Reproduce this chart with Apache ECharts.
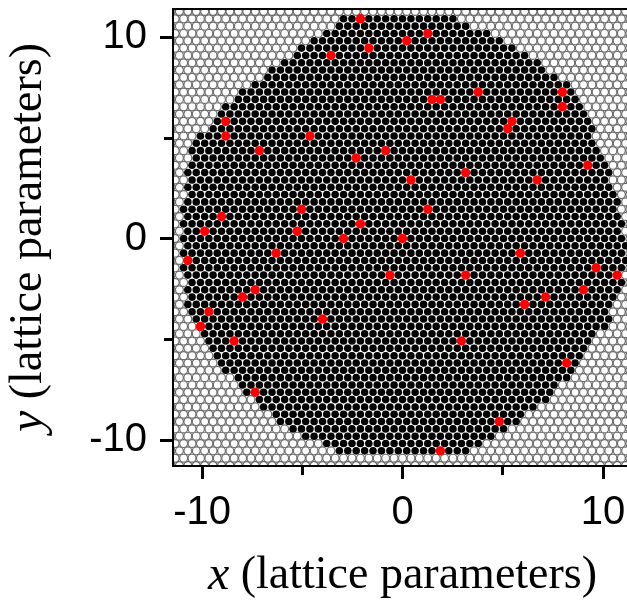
<!DOCTYPE html>
<html>
<head>
<meta charset="utf-8">
<script src="https://cdn.jsdelivr.net/npm/echarts@6/dist/echarts.min.js"></script>
<style>
  html, body { margin: 0; padding: 0; background: #fff; }
  #chart { width: 627px; height: 606px; }
</style>
</head>
<body>
<div id="chart"></div>
<script>
// Triangular lattice: nearest-neighbour spacing (lattice parameters)
const latticeSpacing = 0.42;

// Outline of the dark cluster, clockwise from the top-left corner
const outlineX = [-2.9, 2.5, 5.8, 8.7, 9.9, 10.8, 11.2, 11.1, 10.3, 9.0, 7.0, 2.7,
  -2.4, -5.8, -8.2, -9.6, -10.7, -11.1, -11.0, -10.5, -8.8, -6.2];
const outlineY = [11.0, 11.0, 9.5, 7.3, 4.5, 2.0, 0, -2.0, -4.0, -6.2, -8.3, -10.9,
  -10.9, -9.4, -7.4, -5.5, -3.5, -1.0, 1.5, 4.6, 6.7, 8.7];

// Axis extents and ticks
const xRange = [-11.45, 11.45];
const yRange = [-11.3, 11.4];
const majorTicks = [-10, 0, 10];
const minorTicks = [-5, 5];

// Marked sites inside the cluster (x, y in lattice parameters)
const markedX = [-2.19, 1.2, 0.1, -1.8, -3.64, -9.03, -8.98, 1.45, 1.9, 3.74,
  7.98, 7.98, 5.44, 5.19, -7.33, -4.69, -2.29, -0.9, 9.23, 0.35,
  3.04, 6.68, -5.04, -9.13, 1.25, -2.19, -9.93, -5.39, -2.99, 0,
  -10.82, -6.33, 5.79, 9.68, 10.87, -0.7, 3.14, -7.48, -8.13, -9.68,
  5.99, 7.03, 9.03, -10.12, -4.09, -8.53, 2.84, 8.13, -7.43, 4.79, 1.8];
const markedY = [10.97, 10.2, 9.83, 9.48, 9.08, 5.81, 5.11, 6.95, 6.95, 7.3,
  7.3, 6.6, 5.86, 5.5, 4.37, 5.16, 4.12, 4.42, 3.67, 2.98,
  3.33, 2.98, 1.49, 1.14, 1.49, 0.79, 0.4, 0.35, 0, 0,
  -1.04, -0.79, -0.69, -1.44, -1.74, -1.79, -1.74, -2.53, -2.88, -3.62,
  -3.23, -2.88, -2.53, -4.32, -3.97, -5.06, -5.06, -6.15, -7.59, -9.08, -10.52];

const rowStep = latticeSpacing * Math.sqrt(3) / 2;

function siteX(i, j) {
  return (i + (Math.abs(j) % 2 === 1 ? 0.5 : 0)) * latticeSpacing;
}

// Even-odd point-in-polygon test against the cluster outline
function inCluster(x, y) {
  let inside = false;
  const n = outlineX.length;
  for (let a = 0, b = n - 1; a < n; b = a++) {
    const xa = outlineX[a], ya = outlineY[a], xb = outlineX[b], yb = outlineY[b];
    if ((ya > y) !== (yb > y) && x < (xb - xa) * (y - ya) / (yb - ya) + xa) inside = !inside;
  }
  return inside;
}

// Every lattice site covering the plot, flagged 1 when it belongs to the cluster
const sites = [];
const jMax = Math.ceil(Math.max(Math.abs(yRange[0]), yRange[1]) / rowStep) + 1;
const iMax = Math.ceil(Math.max(Math.abs(xRange[0]), xRange[1]) / latticeSpacing) + 1;
for (let j = -jMax; j <= jMax; j++) {
  for (let i = -iMax; i <= iMax; i++) {
    const x = siteX(i, j);
    const y = j * rowStep;
    sites.push([x, y, inCluster(x, y) ? 1 : 0]);
  }
}

// Marked positions placed on their lattice sites
const marked = markedX.map(function (mx, k) {
  const j = Math.round(markedY[k] / rowStep);
  const off = Math.abs(j) % 2 === 1 ? 0.5 : 0;
  const i = Math.round(mx / latticeSpacing - off);
  return [siteX(i, j), j * rowStep];
});

// A disc, cut to the plotting rectangle when it straddles an edge
function disc(cx, cy, r, rect, style) {
  const x0 = rect.x, y0 = rect.y, x1 = rect.x + rect.width, y1 = rect.y + rect.height;
  if (cx + r < x0 || cx - r > x1 || cy + r < y0 || cy - r > y1) return null;
  if (cx - r >= x0 && cx + r <= x1 && cy - r >= y0 && cy + r <= y1) {
    return { type: 'circle', shape: { cx: cx, cy: cy, r: r }, style: style };
  }
  const pts = [];
  const n = 32;
  for (let k = 0; k < n; k++) {
    const t = 2 * Math.PI * k / n;
    pts.push([
      Math.min(x1, Math.max(x0, cx + r * Math.cos(t))),
      Math.min(y1, Math.max(y0, cy + r * Math.sin(t)))
    ]);
  }
  return { type: 'polygon', shape: { points: pts }, style: style };
}

const chart = echarts.init(document.getElementById('chart'), null, { renderer: 'canvas' });

const labelFont = { fontFamily: 'Liberation Sans', fontSize: 40, color: '#000' };
const titleStyle = {
  fontFamily: 'Liberation Serif', fontSize: 46, color: '#000',
  rich: { i: { fontFamily: 'Liberation Serif', fontStyle: 'italic', fontSize: 48, color: '#000' } }
};

function mainAxis(range, pos, labelMargin, name, nameGap, rotate) {
  return {
    type: 'value', min: range[0], max: range[1], position: pos, z: 10,
    splitLine: { show: false },
    axisLine: { show: true, onZero: false, lineStyle: { color: '#000', width: 2 } },
    axisTick: { show: true, inside: false, customValues: majorTicks, length: 13, lineStyle: { color: '#000', width: 3 } },
    axisLabel: Object.assign({ customValues: majorTicks, margin: labelMargin }, labelFont),
    name: name, nameLocation: 'middle', nameGap: nameGap, nameRotate: rotate,
    nameTextStyle: titleStyle
  };
}
function minorAxis(range, pos) {
  return {
    type: 'value', min: range[0], max: range[1], position: pos, z: 10,
    splitLine: { show: false },
    axisLine: { show: false, onZero: false },
    axisTick: { show: true, inside: false, customValues: minorTicks, length: 9, lineStyle: { color: '#000', width: 3 } },
    axisLabel: { show: false }
  };
}

chart.setOption({
  animation: false,
  backgroundColor: '#fff',
  grid: {
    left: 173, top: 9, width: 459, height: 457,
    outerBoundsMode: 'none', containLabel: false,
    show: true, z: 10, borderColor: '#000', borderWidth: 2, backgroundColor: 'transparent'
  },
  xAxis: [
    mainAxis(xRange, 'bottom', 27, '{i|x} (lattice parameters)', 86, 0),
    minorAxis(xRange, 'bottom')
  ],
  yAxis: [
    mainAxis(yRange, 'left', 26, '{i|y} (lattice parameters)', 120, 90),
    minorAxis(yRange, 'left')
  ],
  series: [
    {
      name: 'lattice', type: 'custom', silent: true,
      xAxisIndex: 0, yAxisIndex: 0,
      data: sites,
      renderItem: function (params, api) {
        const p = api.coord([api.value(0), api.value(1)]);
        const s = api.size([latticeSpacing, latticeSpacing]);
        const inside = api.value(2) === 1;
        return inside
          ? disc(p[0], p[1], s[0] * 0.45, params.coordSys, { fill: '#000' })
          : disc(p[0], p[1], s[0] * 0.47, params.coordSys, { fill: '#fff', stroke: '#6a6a6a', lineWidth: 1.2 });
      }
    },
    {
      name: 'marked', type: 'custom', silent: true,
      xAxisIndex: 0, yAxisIndex: 0,
      data: marked,
      renderItem: function (params, api) {
        const p = api.coord([api.value(0), api.value(1)]);
        const s = api.size([latticeSpacing, latticeSpacing]);
        return disc(p[0], p[1], s[0] * 0.56, params.coordSys, { fill: '#ff0000' });
      }
    }
  ]
});
</script>
</body>
</html>
